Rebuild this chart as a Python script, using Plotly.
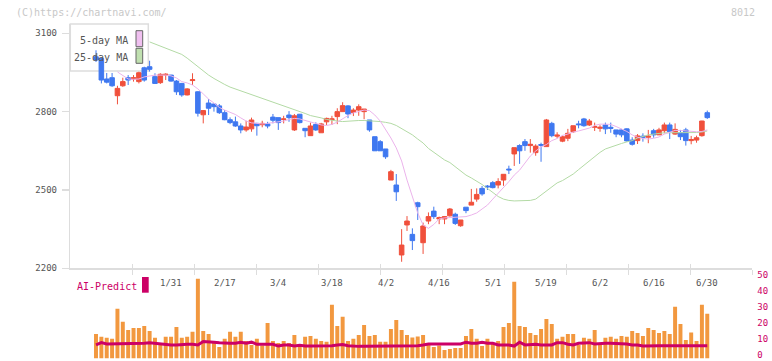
import plotly.graph_objects as go

W, H = 772, 361

dates = [
    "1/10", "1/14", "1/15", "1/16", "1/17", "1/20", "1/21", "1/22", "1/23", "1/24",
    "1/27", "1/28", "1/29", "1/30", "1/31",
    "2/3", "2/4", "2/5", "2/6", "2/7", "2/10", "2/12", "2/13", "2/14", "2/17",
    "2/18", "2/19", "2/20", "2/21", "2/25", "2/26", "2/27", "2/28",
    "3/3", "3/4", "3/5", "3/6", "3/7", "3/10", "3/11", "3/12", "3/13", "3/14",
    "3/17", "3/18", "3/19", "3/21", "3/24", "3/25", "3/26", "3/27", "3/28", "3/31",
    "4/1", "4/2", "4/3", "4/4", "4/7", "4/8", "4/9", "4/10", "4/11", "4/14",
    "4/15", "4/16", "4/17", "4/18", "4/21", "4/22", "4/23", "4/24", "4/25", "4/28", "4/30",
    "5/1", "5/2", "5/7", "5/8", "5/9", "5/12", "5/13", "5/14", "5/15", "5/16",
    "5/19", "5/20", "5/21", "5/22", "5/23", "5/26", "5/27", "5/28", "5/29", "5/30",
    "6/2", "6/3", "6/4", "6/5", "6/6", "6/9", "6/10", "6/11", "6/12", "6/13",
    "6/16", "6/17", "6/18", "6/19", "6/20", "6/23", "6/24", "6/25", "6/26", "6/27", "6/30",
]

open_ = [
    3010, 3004, 2925, 2930, 2861, 2899, 2930, 2925, 2915, 2968,
    2972, 2934, 2911, 2940, 2940, 2917, 2908, 2864, 2919, 2876,
    2788, 2833, 2829, 2822, 2796, 2769, 2761, 2745, 2730, 2734,
    2755, 2750, 2753, 2779, 2777, 2770, 2787, 2730, 2790, 2736,
    2708, 2751, 2719, 2761, 2770, 2781, 2800, 2822, 2797, 2806,
    2800, 2768, 2704, 2685, 2657, 2538, 2519, 2251, 2366, 2330,
    2451, 2298, 2381, 2419, 2389, 2389, 2401, 2407, 2363, 2434,
    2442, 2465, 2506, 2515, 2528, 2519, 2538, 2580, 2638, 2670,
    2685, 2670, 2643, 2674, 2666, 2755, 2706, 2687, 2698, 2723,
    2753, 2772, 2749, 2740, 2736, 2749, 2740, 2730, 2730, 2734,
    2691, 2689, 2706, 2702, 2727, 2711, 2727, 2749, 2714, 2719,
    2730, 2689, 2691, 2708, 2796,
]
high = [
    3035, 3006, 2948, 2948, 2899, 2930, 2940, 2940, 2953, 2972,
    2995, 2947, 2947, 2947, 2941, 2921, 2910, 2890, 2947, 2878,
    2806, 2848, 2831, 2829, 2806, 2778, 2781, 2755, 2765, 2777,
    2757, 2765, 2761, 2791, 2777, 2784, 2802, 2791, 2791, 2736,
    2758, 2759, 2757, 2777, 2784, 2813, 2836, 2825, 2813, 2828,
    2810, 2768, 2704, 2691, 2657, 2577, 2561, 2350, 2400, 2353,
    2455, 2375, 2414, 2436, 2398, 2400, 2431, 2413, 2385, 2434,
    2504, 2506, 2515, 2519, 2534, 2545, 2560, 2593, 2662, 2675,
    2695, 2695, 2675, 2681, 2772, 2761, 2721, 2708, 2734, 2746,
    2765, 2776, 2772, 2758, 2748, 2758, 2758, 2730, 2734, 2736,
    2702, 2714, 2717, 2730, 2734, 2738, 2758, 2758, 2755, 2730,
    2738, 2707, 2708, 2765, 2804,
]
low = [
    2990, 2908, 2908, 2895, 2828, 2895, 2902, 2915, 2908, 2915,
    2953, 2906, 2906, 2921, 2915, 2864, 2857, 2862, 2902, 2781,
    2755, 2787, 2800, 2791, 2767, 2752, 2742, 2717, 2723, 2723,
    2708, 2740, 2736, 2755, 2730, 2755, 2761, 2726, 2755, 2702,
    2708, 2726, 2719, 2749, 2749, 2752, 2800, 2775, 2783, 2784,
    2771, 2723, 2650, 2650, 2619, 2538, 2458, 2225, 2343, 2270,
    2385, 2255, 2369, 2389, 2369, 2369, 2398, 2366, 2359, 2411,
    2442, 2455, 2478, 2500, 2506, 2506, 2516, 2561, 2592, 2600,
    2650, 2643, 2631, 2608, 2666, 2702, 2698, 2683, 2687, 2719,
    2736, 2742, 2745, 2726, 2723, 2714, 2719, 2702, 2702, 2685,
    2670, 2676, 2685, 2679, 2700, 2711, 2717, 2695, 2711, 2691,
    2670, 2675, 2681, 2704, 2772,
]
close = [
    2998, 2921, 2913, 2899, 2889, 2915, 2921, 2930, 2949, 2921,
    2962, 2908, 2943, 2943, 2917, 2876, 2864, 2887, 2922, 2794,
    2804, 2813, 2819, 2796, 2769, 2758, 2745, 2730, 2741, 2768,
    2746, 2755, 2745, 2767, 2758, 2772, 2777, 2784, 2758, 2727,
    2745, 2730, 2753, 2774, 2772, 2800, 2823, 2791, 2806, 2819,
    2810, 2730, 2650, 2650, 2627, 2570, 2493, 2289, 2381, 2306,
    2436, 2362, 2398, 2398, 2394, 2398, 2427, 2372, 2385, 2421,
    2453, 2483, 2485, 2512, 2509, 2532, 2560, 2577, 2662, 2650,
    2670, 2675, 2668, 2671, 2768, 2708, 2710, 2704, 2717, 2746,
    2750, 2746, 2764, 2743, 2740, 2734, 2736, 2714, 2711, 2688,
    2675, 2707, 2702, 2706, 2711, 2730, 2749, 2723, 2732, 2704,
    2689, 2693, 2700, 2764, 2777,
]

ma5 = [
    None, None, None, None, 2952, 2937, 2925, 2924, 2925, 2933,
    2937, 2940, 2940, 2940, 2937, 2929, 2915, 2910, 2902, 2887,
    2868, 2848, 2833, 2816, 2806, 2797, 2789, 2776, 2764, 2757,
    2755, 2753, 2755, 2758, 2760, 2764, 2770, 2774, 2772, 2766,
    2760, 2755, 2749, 2747, 2751, 2760, 2774, 2785, 2795, 2801,
    2806, 2804, 2787, 2764, 2734, 2699, 2661, 2611, 2538, 2473,
    2412, 2366, 2353, 2368, 2389, 2393, 2394, 2394, 2395, 2398,
    2404, 2412, 2427, 2442, 2465, 2487, 2508, 2532, 2557, 2576,
    2603, 2630, 2649, 2665, 2674, 2689, 2697, 2709, 2714, 2722,
    2726, 2732, 2737, 2747, 2752, 2752, 2751, 2743, 2735, 2724,
    2711, 2702, 2697, 2695, 2698, 2703, 2714, 2722, 2728, 2728,
    2726, 2724, 2723, 2724, 2730,
]
ma25 = [
    None, None, None, None, None, None, None, None, None, None,
    3067, 3059, 3050, 3042, 3034, 3027, 3019, 3005, 2989, 2971,
    2956, 2940, 2927, 2914, 2904, 2894, 2887, 2879, 2871, 2864,
    2858, 2850, 2845, 2837, 2829, 2824, 2816, 2808, 2801, 2793,
    2785, 2781, 2776, 2770, 2766, 2764, 2762, 2764, 2766, 2766,
    2766, 2765, 2764, 2762, 2759, 2755, 2747, 2735, 2724, 2711,
    2695, 2680, 2659, 2645, 2630, 2615, 2605, 2590, 2575, 2557,
    2546, 2534, 2521, 2506, 2490, 2475, 2465, 2460, 2458, 2458,
    2458, 2460, 2465, 2481, 2496, 2513, 2527, 2536, 2548, 2561,
    2578, 2594, 2613, 2628, 2644, 2657, 2665, 2672, 2678, 2684,
    2689, 2699, 2705, 2711, 2714, 2717, 2719, 2719, 2719, 2719,
    2719, 2719, 2720, 2722, 2726,
]

volume = [
    15.1, 13.3, 12.7, 12.1, 30.7, 22.6, 17.6, 18.8, 18.8, 20.0,
    17.0, 12.7, 9.5, 13.3, 13.3, 19.4, 12.7, 13.3, 16.4, 49.4,
    17.0, 15.1, 9.5, 7.0, 12.1, 16.4, 13.3, 16.4, 10.8, 8.3,
    12.1, 8.0, 21.9, 10.8, 9.5, 10.8, 9.5, 14.5, 8.3, 13.3,
    13.9, 12.1, 10.8, 10.2, 33.2, 20.0, 25.7, 10.8, 12.1, 14.5,
    20.7, 13.9, 14.5, 10.2, 10.2, 18.2, 23.8, 17.6, 14.5, 12.9,
    13.5, 14.5, 8.3, 7.0, 7.9, 5.2, 5.8, 6.4, 6.4, 13.9,
    18.2, 12.1, 7.7, 12.1, 9.5, 10.8, 19.4, 21.9, 47.5, 20.0,
    19.4, 15.7, 14.5, 18.2, 24.4, 21.3, 12.1, 13.3, 15.1, 15.1,
    8.3, 12.7, 12.1, 17.6, 8.3, 12.7, 13.3, 12.1, 13.9, 13.3,
    17.0, 15.7, 13.9, 18.8, 17.6, 15.7, 17.0, 15.1, 31.9, 21.3,
    11.4, 16.0, 10.8, 33.2, 27.6,
]
ai_predict = [
    8.3, 9.7, 8.9, 8.9, 9.3, 9.3, 9.3, 9.3, 9.3, 9.3,
    9.7, 9.3, 8.7, 8.7, 8.3, 8.3, 8.7, 8.7, 8.7, 8.3,
    10.4, 10.4, 10.0, 9.6, 9.3, 9.3, 9.3, 10.0, 9.3, 10.0,
    8.7, 8.7, 8.3, 8.7, 7.6, 8.3, 8.3, 7.6, 8.1, 7.6,
    7.6, 7.6, 7.6, 7.6, 7.8, 8.3, 8.5, 7.8, 7.4, 7.4,
    7.4, 7.4, 7.4, 7.4, 7.4, 7.6, 7.8, 7.8, 7.8, 7.8,
    7.8, 8.3, 8.9, 8.9, 8.9, 8.9, 8.9, 8.9, 8.9, 10.0,
    9.3, 9.3, 10.0, 9.3, 9.3, 8.3, 8.3, 8.3, 7.6, 10.0,
    8.3, 8.7, 8.7, 8.3, 8.3, 8.3, 9.7, 9.7, 8.7, 8.3,
    9.3, 9.3, 9.7, 8.9, 9.3, 9.3, 9.3, 9.3, 9.3, 8.9,
    8.3, 8.3, 7.6, 7.8, 7.8, 7.8, 7.8, 7.8, 7.8, 7.8,
    7.8, 7.8, 7.8, 7.8, 7.8,
]

price_ticks = [2200, 2500, 2800, 3100]
volume_ticks = [0, 10, 20, 30, 40, 50]
label_start, label_step = 14, 10

RED = "#F0503C"
BLUE = "#3F78F0"
ORANGE = "#F2983F"
MAG = "#CC0066"
PINK = "#EBB3EB"
GREEN = "#B3DAA5"
AXIS = "#DDDDDD"
MONO = "DejaVu Sans Mono"


def fx(p):
    return p / W


def fy(p):
    return 1 - p / H


x = list(range(len(dates)))
label_idx = list(range(label_start, len(dates), label_step))

# pixel frame of the panels
left_px, right_px = 70.3, 752.3
first_px, step_px = 96.0, 5.362
x_lo = -(first_px - left_px) / step_px
x_hi = x_lo + (right_px - left_px) / step_px
tick_px = [left_px + 62 * k for k in range(1, 12)]
tick_idx = [x_lo + (p - left_px) / step_px for p in tick_px]

# volume panel: 0 at y=358.3px, 50 at y=277.7px, padded a little
vol_pp = (358.3 - 277.7) / 50.0
vol_pad = 0.6
vol_bottom_px = 358.3 + vol_pad * vol_pp
vol_top_px = 277.7 - vol_pad * vol_pp

fig = go.Figure()
fig.add_trace(go.Scatter(x=x, y=ma25, mode="lines", line=dict(color=GREEN, width=1),
                         xaxis="x", yaxis="y", hoverinfo="skip"))
fig.add_trace(go.Scatter(x=x, y=ma5, mode="lines", line=dict(color=PINK, width=1),
                         xaxis="x", yaxis="y", hoverinfo="skip"))
fig.add_trace(go.Candlestick(
    x=x, open=open_, high=high, low=low, close=close,
    increasing=dict(line=dict(color=RED, width=1), fillcolor=RED),
    decreasing=dict(line=dict(color=BLUE, width=1), fillcolor=BLUE),
    whiskerwidth=0, xaxis="x", yaxis="y"))
fig.add_trace(go.Bar(x=x, y=volume, marker=dict(color=ORANGE, line=dict(width=0)),
                     width=0.74, xaxis="x2", yaxis="y2"))
fig.add_trace(go.Scatter(x=x, y=ai_predict, mode="lines", line=dict(color=MAG, width=3),
                         xaxis="x2", yaxis="y2"))
# empty helper trace so the overlaid tick axis is drawn
fig.add_trace(go.Scatter(x=[None], y=[None], xaxis="x3", yaxis="y", hoverinfo="skip"))

price_top = 2200 + (268.3 - 24) / (235.0 / 900)

fig.update_layout(
    template="none",
    width=W, height=H, margin=dict(l=0, r=0, t=0, b=0, pad=0),
    paper_bgcolor="white", plot_bgcolor="white", showlegend=False,
    boxgap=0.15, boxgroupgap=0,
    xaxis=dict(domain=[fx(left_px), fx(right_px)], range=[x_lo, x_hi], anchor="y",
               showline=True, linecolor=AXIS, linewidth=1.5, ticks="outside",
               tickvals=tick_idx, ticklen=5, tickcolor=AXIS, tickwidth=1.5,
               showticklabels=False, showgrid=False, zeroline=False, automargin=False,
               rangeslider=dict(visible=False)),
    xaxis3=dict(overlaying="x", range=[x_lo, x_hi], anchor="y", side="bottom",
                ticks="inside", tickvals=tick_idx, ticklen=4, tickcolor=AXIS, tickwidth=1.5,
                showticklabels=False, showline=False, showgrid=False, zeroline=False,
                automargin=False),
    yaxis=dict(domain=[fy(268.3), fy(24)], range=[2200, price_top], anchor="x",
               showline=True, linecolor=AXIS, linewidth=1.5, ticks="outside",
               ticklen=7, tickcolor=AXIS, tickwidth=1.5, tickvals=price_ticks,
               tickfont=dict(family=MONO, size=9, color="#555555"),
               ticklabelstandoff=3, showgrid=False, zeroline=False, automargin=False),
    xaxis2=dict(domain=[fx(left_px), fx(right_px)], range=[x_lo, x_hi], anchor="y2",
                showticklabels=False, ticks="",
                showline=False, showgrid=False, zeroline=False, automargin=False),
    yaxis2=dict(domain=[fy(vol_bottom_px), fy(vol_top_px)], range=[-vol_pad, 50 + vol_pad],
                anchor="x2", side="right", tickvals=volume_ticks, ticks="",
                tickfont=dict(family=MONO, size=9, color=MAG), ticklabeloverflow="allow",
                ticklabelstandoff=4, ticklabelshift=-3,
                showline=False, showgrid=False, zeroline=False, automargin=False),
)

shapes = [
    dict(type="rect", xref="paper", yref="paper", x0=fx(70.3), x1=fx(148.3),
         y0=fy(71), y1=fy(24), line=dict(color=AXIS, width=1.5), fillcolor="white",
         layer="below"),
    dict(type="rect", xref="paper", yref="paper", x0=fx(136), x1=fx(142.7),
         y0=fy(46.7), y1=fy(30.7), line=dict(color="#666666", width=1), fillcolor="#F0C0F0"),
    dict(type="rect", xref="paper", yref="paper", x0=fx(136), x1=fx(142.7),
         y0=fy(63.3), y1=fy(48.3), line=dict(color="#666666", width=1), fillcolor="#C0E0B0"),
    dict(type="rect", xref="paper", yref="paper", x0=fx(142), x1=fx(148.7),
         y0=fy(292.7), y1=fy(277), line=dict(width=0), fillcolor=MAG),
]
annotations = [
    dict(text="(C)https://chartnavi.com/", x=fx(14), y=fy(12.5), xanchor="left",
         xref="paper", font=dict(family=MONO, size=10, color="#C8C8C8")),
    dict(text="8012", x=fx(757), y=fy(12.5), xanchor="right",
         xref="paper", font=dict(family=MONO, size=10, color="#C8C8C8")),
    dict(text="5-day MA", x=fx(130), y=fy(40), xanchor="right",
         xref="paper", font=dict(family=MONO, size=10, color="#555555")),
    dict(text="25-day MA", x=fx(130), y=fy(57.3), xanchor="right",
         xref="paper", font=dict(family=MONO, size=10, color="#555555")),
    dict(text="AI-Predict", x=fx(75), y=fy(286), xanchor="left",
         xref="paper", font=dict(family=MONO, size=10, color=MAG)),
]
# date labels placed on the volume panel's x scale
for i in label_idx:
    annotations.append(dict(text=dates[i], x=i, xref="x2", y=fy(282.5), xanchor="center",
                            font=dict(family=MONO, size=9, color="#555555")))
for a in annotations:
    a.update(yref="paper", yanchor="middle", showarrow=False)

fig.update_layout(shapes=shapes, annotations=annotations)
fig.write_html("out.html",
               config={"displayModeBar": False, "staticPlot": True},
               post_script="document.body.style.margin='0px';document.body.style.overflow='hidden';")
